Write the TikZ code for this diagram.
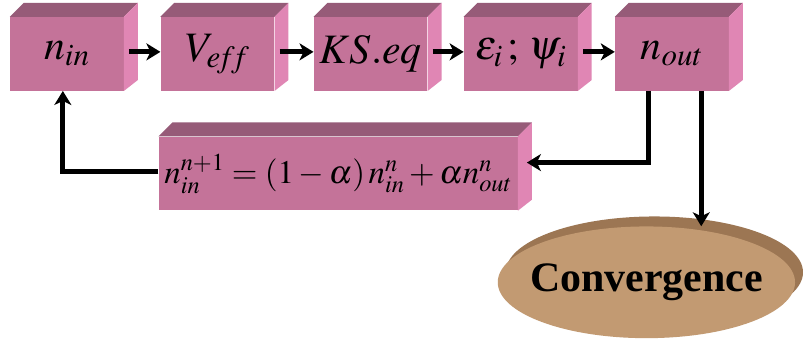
\documentclass[tikz,border=0pt]{standalone}
\usepackage{mathptmx}
\usepackage[no-math]{fontspec}
\setmainfont{Liberation Serif}
\usetikzlibrary{arrows.meta,shapes.geometric}
\definecolor{cubeFront}{HTML}{C47399}
\definecolor{cubeTop}{HTML}{965B78}
\definecolor{cubeSide}{HTML}{E086B4}
\definecolor{discFace}{HTML}{C29A72}
\definecolor{discRim}{HTML}{9C7653}

\begin{document}
\begin{tikzpicture}[x=1pt,y=-1pt,>=Stealth,line join=miter]
\path[fill=white] (0,0) rectangle (803,350);
\tikzset{cube/.style={fill=cubeFront,minimum width=114pt,minimum height=74pt,inner sep=0pt,font=\fontsize{42}{48}\selectfont},flow/.style={draw=black,line width=5pt,-{Stealth[length=14pt,width=17pt,inset=4pt]}},disc/.style={ellipse,minimum width=298pt,minimum height=112pt,inner sep=0pt}}
% scf loop boxes
\node[cube] (nin) at (67,54) {$n_{in}$};
\node[cube] (veff) at (218,54) {$V_{e\!f\!f}$};
\node[cube] (kseq) at (371.5,54) {$KS.eq$};
\node[cube] (eig) at (522,54) {$\varepsilon_{i}\,;\,\psi_{i}$};
\node[cube] (nout) at (673.5,54) {$n_{out}$};
\node[cube,minimum width=360pt,font=\fontsize{33}{40}\selectfont] (mix) at (339,174) {$n_{in}^{n+1}=(1-\alpha)\,n_{in}^{n}+\alpha n_{out}^{n}$};
\foreach \b in {nin,veff,kseq,eig,nout,mix} {
  \fill[cubeTop] (\b.north west) -- ++(14,-14) -- ([shift={(14pt,14pt)}]\b.north east) -- (\b.north east) -- cycle;
  \fill[cubeSide] (\b.north east) -- ([shift={(14pt,14pt)}]\b.north east) -- ([shift={(14pt,11pt)}]\b.south east) -- (\b.south east) -- cycle;
}
% convergence disc
\node[disc,fill=discRim] (rim) at (656,273) {};
\node[disc,fill=discFace] (conv) at (648,283) {};
\node[font=\fontsize{42}{48}\selectfont\bfseries] (convtext) at (conv.center) {Convergence};
% connectors
\draw[flow] ([shift={(5pt,2pt)}]nin.east) -- ([yshift=2pt]veff.west);
\draw[flow] ([shift={(5pt,2pt)}]veff.east) -- ([yshift=2pt]kseq.west);
\draw[flow] ([shift={(5pt,2pt)}]kseq.east) -- ([yshift=2pt]eig.west);
\draw[flow] ([shift={(5pt,2pt)}]eig.east) -- ([yshift=2pt]nout.west);
\draw[flow] ([yshift=2pt]mix.west) -| ([xshift=-4pt]nin.south);
\draw[flow] ([xshift=-23.5pt]nout.south) |- ([shift={(9pt,11pt)}]mix.east);
\draw[flow] ([xshift=29.5pt]nout.south) -- ([xshift=29.5pt]nout.south |- conv.north);
\end{tikzpicture}
\end{document}
